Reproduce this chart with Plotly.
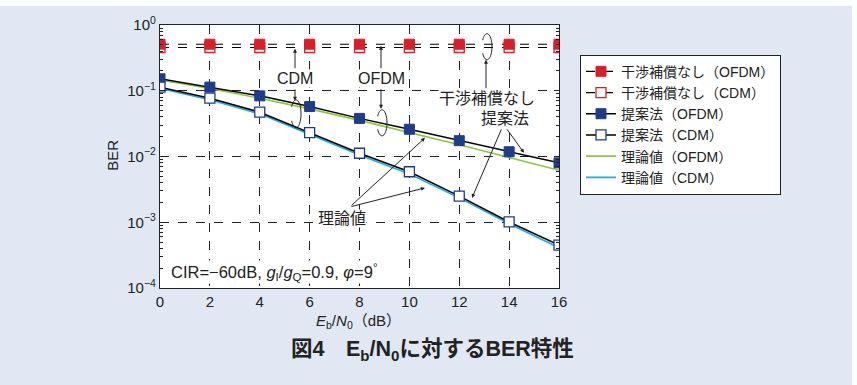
import numpy as np
import plotly.graph_objects as go

# ---------------- data ----------------
ebn0 = [0, 2, 4, 6, 8, 10, 12, 14, 16]
ber_nocomp_ofdm = [0.51, 0.51, 0.51, 0.51, 0.51, 0.51, 0.51, 0.51, 0.51]
ber_nocomp_cdm = [0.455, 0.455, 0.455, 0.455, 0.455, 0.455, 0.455, 0.455, 0.455]
ber_prop_ofdm = [0.152, 0.1135, 0.0836, 0.0575, 0.038, 0.026, 0.0174, 0.0118, 0.0080]
ber_prop_cdm = [0.1135, 0.077, 0.0472, 0.0231, 0.0112, 0.00586, 0.0025, 0.00101, 0.000448]
ber_theo_ofdm = [0.146, 0.1085, 0.0771, 0.053, 0.0354, 0.0233, 0.01505, 0.00967, 0.00617]
ber_theo_cdm = [0.108, 0.073, 0.0445, 0.0219, 0.0105, 0.0054, 0.00235, 0.00095, 0.00041]
ytick_vals = [1, 0.1, 0.01, 0.001, 0.0001]
ytick_text = ["10<sup>0</sup>", "10<sup>−1</sup>", "10<sup>−2</sup>", "10<sup>−3</sup>", "10<sup>−4</sup>"]
xtick_vals = [0, 2, 4, 6, 8, 10, 12, 14, 16]
yminor_vals = [m * 10.0 ** e for e in range(-4, 0) for m in range(2, 10)]

# ---------------- styling ----------------
W, H = 857, 385
L, R, T, B = 160, 559, 25.3, 288
FONT = "Liberation Sans, Arial, Noto Sans CJK JP, sans-serif"
NAVY = "#1f3c8c"
RED = "#d7202a"
GREEN = "#8cc63f"
CYAN = "#1eaae6"
BG = "#e1e8f4"


def px(x):
    return (x - L) / (R - L)


def py(y):
    return (B - y) / (B - T)


fig = go.Figure()

fig.add_trace(go.Scatter(
    x=ebn0, y=ber_theo_ofdm, mode="lines", name="理論値（OFDM）",
    line=dict(color=GREEN, width=1.6), legendrank=5))
fig.add_trace(go.Scatter(
    x=ebn0, y=ber_theo_cdm, mode="lines", name="理論値（CDM）",
    line=dict(color=CYAN, width=1.6), legendrank=6))
fig.add_trace(go.Scatter(
    x=ebn0, y=ber_nocomp_cdm, mode="lines+markers", name="干渉補償なし（CDM）",
    line=dict(color="black", width=1.2, dash="dash"),
    marker=dict(symbol="square", size=10, color="white", line=dict(color=RED, width=1.3)),
    legendrank=2))
fig.add_trace(go.Scatter(
    x=ebn0, y=ber_nocomp_ofdm, mode="lines+markers", name="干渉補償なし（OFDM）",
    line=dict(color="black", width=1.2, dash="dash"),
    marker=dict(symbol="square", size=10, color=RED, line=dict(color=RED, width=1)),
    legendrank=1))
fig.add_trace(go.Scatter(
    x=ebn0, y=ber_prop_ofdm, mode="lines+markers", name="提案法（OFDM）",
    line=dict(color="black", width=1.5),
    marker=dict(symbol="square", size=10, color=NAVY, line=dict(color=NAVY, width=1)),
    legendrank=3))
fig.add_trace(go.Scatter(
    x=ebn0, y=ber_prop_cdm, mode="lines+markers", name="提案法（CDM）",
    line=dict(color="black", width=1.5),
    marker=dict(symbol="square", size=10, color="white", line=dict(color=NAVY, width=1.3)),
    legendrank=4))

annotations = []


def label(text, x, y, size=16, xanchor="center", **kw):
    annotations.append(dict(text=text, x=px(x), y=py(y), xref="paper", yref="paper",
                            showarrow=False, xanchor=xanchor, yanchor="middle",
                            bgcolor="white", borderpad=0,
                            font=dict(family=FONT, size=size, color="#222"), **kw))


def arrow(x0, y0, x1, y1):
    annotations.append(dict(text="", x=px(x1), y=py(y1), xref="paper", yref="paper",
                            ax=x0 - x1, ay=y0 - y1, axref="pixel", ayref="pixel",
                            showarrow=True, arrowhead=2, arrowsize=0.8, arrowwidth=1,
                            arrowcolor="#222"))


label("CDM", 295, 79)
label("OFDM", 381, 79)
label("干渉補償なし", 487, 99)
label("提案法", 505, 119)
label("理論値", 342, 219)
label("CIR=−60dB, <i>g</i><sub>I</sub>/<i>g</i><sub>Q</sub>=0.9, <i>φ</i>=9<sup>°</sup>",
      170, 272, size=16.5, xanchor="left")

arrow(295, 70, 295, 49)
arrow(295, 88, 295, 101)
arrow(381, 70, 381, 46)
arrow(381, 88, 381, 109)
arrow(486, 90, 486, 60)
arrow(502, 128, 472, 198)
arrow(506, 128, 524, 153)
arrow(350, 207, 425, 138)
arrow(350, 207, 425, 188)

# caption
annotations.append(dict(
    text="<b>図4　E<sub>b</sub>/N<sub>0</sub>に対するBER特性</b>",
    x=px(432), y=py(350), xref="paper", yref="paper", showarrow=False,
    xanchor="center", yanchor="middle",
    font=dict(family=FONT, size=21.5, color="#222")))
# y title
annotations.append(dict(
    text="BER", x=px(113), y=py(156), xref="paper", yref="paper", showarrow=False,
    textangle=-90, xanchor="center", yanchor="middle",
    font=dict(family=FONT, size=15, color="#222")))
# x title
annotations.append(dict(
    text="<i>E</i><sub>b</sub>/<i>N</i><sub>0</sub>（dB）", x=px(358), y=py(321),
    xref="paper", yref="paper", showarrow=False, xanchor="center", yanchor="middle",
    font=dict(family=FONT, size=15, color="#222")))

shapes = []
# white frame strips around the light-blue panel
shapes.append(dict(type="rect", xref="paper", yref="paper", layer="below",
                   x0=px(0), x1=px(857), y0=py(6), y1=py(0),
                   fillcolor="white", line=dict(width=0)))
shapes.append(dict(type="rect", xref="paper", yref="paper", layer="below",
                   x0=px(852), x1=px(857), y0=py(385), y1=py(0),
                   fillcolor="white", line=dict(width=0)))


def ellipse_arc(cx, cy, rx, ry):
    pts = []
    for a in np.radians(np.linspace(-150, 150, 40)):
        xx = cx + rx * np.cos(a)
        yy = cy + ry * np.sin(a)
        pts.append((px(xx), py(yy)))
    d = "M " + " L ".join(f"{a:.5f},{b:.5f}" for a, b in pts)
    return dict(type="path", xref="paper", yref="paper", path=d,
                line=dict(color="#222", width=1))


shapes.append(ellipse_arc(296, 114, 5, 14))
shapes.append(ellipse_arc(382, 123, 5, 13))
shapes.append(ellipse_arc(487, 47, 5, 13))

fig.update_layout(
    width=W, height=H,
    margin=dict(l=L, r=W - R, t=T, b=H - B, autoexpand=False),
    paper_bgcolor=BG, plot_bgcolor="white",
    font=dict(family=FONT, size=15, color="#222"),
    showlegend=True,
    legend=dict(x=px(580), y=py(55), xanchor="left", yanchor="top",
                bgcolor="white", bordercolor="#222", borderwidth=1,
                font=dict(family=FONT, size=14, color="#222"),
                itemwidth=30, tracegroupgap=0),
    annotations=annotations, shapes=shapes,
    xaxis=dict(range=[0, 16], tickvals=xtick_vals, showgrid=True,
               gridcolor="#222", griddash="dash", gridwidth=1,
               showline=True, linecolor="#222", linewidth=1.2, mirror=True,
               ticks="", zeroline=False, tickfont=dict(size=15)),
    yaxis=dict(type="log", range=[-4, 0], tickvals=ytick_vals, ticktext=ytick_text,
               showgrid=True, gridcolor="#222", griddash="dash", gridwidth=1,
               showline=True, linecolor="#222", linewidth=1.2, mirror="ticks",
               ticks="inside", ticklen=5, tickcolor="#222",
               minor=dict(tickmode="array", tickvals=yminor_vals,
                          ticks="inside", ticklen=3, tickcolor="#222", showgrid=False),
               zeroline=False, tickfont=dict(size=15)),
)

fig.write_html("out.html", config={"displayModeBar": False},
               post_script="document.body.style.margin='0';document.body.style.padding='0';"
                           "window.dispatchEvent(new Event('resize'));")
